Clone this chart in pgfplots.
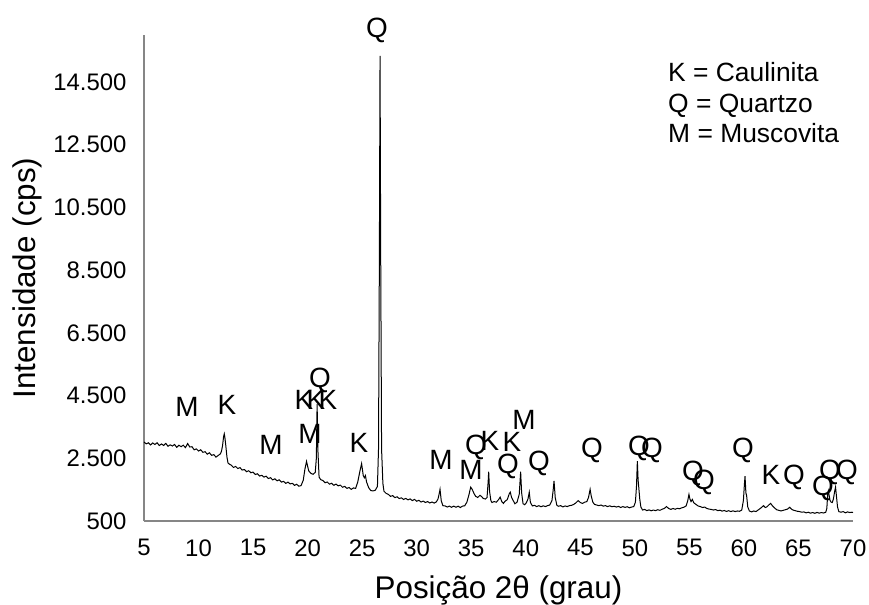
\documentclass[border=0pt]{standalone}
\usepackage{fontspec}
\setmainfont{Liberation Sans}
\usepackage{pgfplots}
\pgfplotsset{compat=1.18}
\usetikzlibrary{calc}
\definecolor{axisgray}{RGB}{134,134,134}

\begin{document}
\begin{tikzpicture}
\begin{axis}[
  name=ax,
  scale only axis,
  width=709bp, height=486bp,
  xmin=5, xmax=70, ymin=500, ymax=16000,
  xtick={5,10,...,70},
  ytick={500,2500,...,14500},
  scaled y ticks=false,
  axis lines=left,
  axis line style={draw=axisgray, line width=1.5bp, -},
  major tick length=0pt,
  tick label style={font=\fontsize{24}{28}\selectfont},
  /pgf/number format/1000 sep={.},
  /pgf/number format/assume math mode=true,
  xticklabel style={yshift=-15bp},
  yticklabel style={xshift=-14bp},
  xlabel={Posição 2θ (grau)},
  ylabel={Intensidade (cps)},
  label style={font=\fontsize{31.5}{36}\selectfont},
  xlabel style={at={(axis description cs:0.5,-0.142)}, anchor=center},
  ylabel style={at={(axis description cs:-0.164,0.5)}, anchor=center},
  clip=false,
]
% difratograma
\addplot[black, line width=1bp] coordinates {
(5.0,3020) (5.2,2960) (5.4,2995) (5.6,2925) (5.8,2990) (6.0,2940) (6.2,2996) (6.4,2907)
(6.6,2958) (6.8,2909) (7.0,2975) (7.2,2884) (7.4,2928) (7.6,2892) (7.8,2941) (8.0,2850)
(8.2,2917) (8.4,2870) (8.6,2918) (8.8,2840) (9.0,2970) (9.2,2860) (9.4,2870) (9.6,2770)
(9.8,2800) (10.0,2730) (10.2,2773) (10.4,2691) (10.6,2709) (10.8,2632) (11.0,2675) (11.2,2594)
(11.4,2617) (11.6,2538) (11.8,2590) (12.0,2640) (12.1,2720) (12.2,2900) (12.3,3200) (12.36,3280)
(12.42,3150) (12.5,2900) (12.6,2550) (12.7,2350) (12.8,2320)
(13.0,2280) (13.2,2208) (13.4,2241) (13.6,2174) (13.8,2202) (14.0,2125) (14.2,2141) (14.4,2072)
(14.6,2103) (14.8,2039) (15.0,2060) (15.2,1983) (15.4,2006) (15.6,1934) (15.8,1957) (16.0,1900)
(16.2,1930) (16.4,1855) (16.6,1880) (16.8,1810) (17.0,1845) (17.2,1782) (17.4,1814) (17.6,1741)
(17.8,1763) (18.0,1700) (18.2,1739) (18.4,1683) (18.6,1702) (18.8,1636) (19.0,1670) (19.2,1610)
(19.4,1630) (19.6,1800) (19.75,2150) (19.9,2400) (20.0,2250) (20.1,2100) (20.3,2020) (20.5,1990)
(20.7,2050) (20.8,2500) (20.87,4230) (20.95,2700) (21.05,1900) (21.2,1820) (21.4,1790) (21.6,1720)
(21.8,1745) (22.0,1675) (22.2,1704) (22.4,1638) (22.6,1677) (22.8,1621) (23.0,1645) (23.2,1577)
(23.4,1604) (23.6,1541) (23.8,1568) (24.0,1510) (24.2,1555) (24.4,1540) (24.6,1750) (24.8,2100)
(24.95,2330) (25.1,1950) (25.2,1880) (25.3,1950) (25.4,1750) (25.6,1560) (25.8,1470) (26.0,1460)
(26.2,1480) (26.4,1600) (26.5,2800) (26.58,9000) (26.64,15330) (26.7,9000) (26.78,2800) (26.9,1700)
(27.0,1450) (27.2,1380) (27.4,1350) (27.6,1285) (27.8,1310) (28.0,1245) (28.2,1273) (28.4,1216)
(28.6,1239) (28.8,1187) (29.0,1220) (29.2,1175) (29.4,1205) (29.6,1150) (29.8,1190) (30.0,1130)
(30.2,1160) (30.4,1105) (30.6,1135) (30.8,1090) (31.0,1120) (31.2,1075) (31.4,1105) (31.6,1070)
(31.8,1110) (31.95,1200) (32.05,1350) (32.14,1510) (32.25,1150) (32.4,990) (32.6,980) (32.8,945)
(33.0,975) (33.2,938) (33.4,976) (33.6,939) (33.8,972) (34.0,930) (34.2,975) (34.4,985)
(34.6,1100) (34.8,1350) (34.95,1580) (35.1,1500) (35.25,1380) (35.4,1290) (35.6,1250) (35.8,1320)
(35.95,1280) (36.1,1220) (36.3,1200) (36.45,1250) (36.55,1750) (36.6,2070) (36.68,1450) (36.8,1150)
(36.9,1090) (37.1,1120) (37.3,1100) (37.5,1180) (37.65,1260) (37.8,1120) (37.95,1060) (38.1,1130)
(38.3,1180) (38.5,1380) (38.58,1420) (38.7,1250) (38.85,1150) (39.0,1050) (39.2,1100) (39.4,1350)
(39.53,2070) (39.62,1400) (39.75,1050) (39.9,1020) (40.05,1080) (40.2,1200) (40.32,1420) (40.42,1100)
(40.6,980) (40.8,1000) (41.0,960) (41.2,990) (41.4,955) (41.6,985) (41.8,960) (42.0,990)
(42.2,1010) (42.4,1150) (42.5,1450) (42.59,1780) (42.7,1250) (42.85,1000) (43.0,970) (43.2,990)
(43.4,950) (43.6,980) (43.8,960) (44.0,990) (44.2,1000) (44.4,1030) (44.6,1080) (44.8,1150)
(45.0,1090) (45.2,1060) (45.4,1100) (45.6,1120) (45.75,1250) (45.9,1510) (46.0,1300) (46.15,1100)
(46.3,1030) (46.5,1010) (46.7,990) (46.9,1010) (47.1,975) (47.3,990) (47.5,960) (47.7,985)
(47.9,955) (48.1,970) (48.3,945) (48.5,965) (48.7,930) (48.9,960) (49.1,935) (49.3,955)
(49.5,920) (49.7,945) (49.9,960) (50.05,1100) (50.15,1600) (50.23,2410) (50.3,1800) (50.35,1610)
(50.45,1200) (50.55,950) (50.7,850) (50.9,870) (51.1,830) (51.3,855) (51.5,825) (51.7,850)
(51.9,830) (52.1,860) (52.3,840) (52.5,875) (52.7,900) (52.9,960) (53.1,900) (53.3,870)
(53.5,900) (53.7,875) (53.9,905) (54.1,890) (54.3,920) (54.5,940) (54.7,980) (54.85,1150)
(54.96,1350) (55.05,1200) (55.15,1120) (55.27,1190) (55.4,1080) (55.6,1030) (55.8,980) (56.0,960)
(56.2,930) (56.4,945) (56.6,900) (56.8,880) (57.0,870) (57.2,850) (57.4,865) (57.6,830)
(57.8,845) (58.0,815) (58.2,835) (58.4,805) (58.6,830) (58.8,800) (59.0,825) (59.2,800)
(59.4,820) (59.6,810) (59.8,850) (59.95,1150) (60.05,1700) (60.1,1930) (60.18,1400) (60.25,1300)
(60.35,950) (60.5,820) (60.7,790) (60.9,820) (61.1,800) (61.3,850) (61.5,900) (61.7,960)
(61.8,990) (61.95,930) (62.1,950) (62.3,1020) (62.45,1060) (62.6,990) (62.8,920) (63.0,860)
(63.2,840) (63.4,820) (63.6,840) (63.8,860) (64.0,880) (64.2,940) (64.35,880) (64.5,850)
(64.7,830) (64.9,810) (65.1,800) (65.3,780) (65.5,790) (65.7,760) (65.9,780) (66.1,750)
(66.3,770) (66.5,745) (66.7,775) (66.9,750) (67.1,770) (67.3,755) (67.5,780) (67.6,900)
(67.68,1350) (67.74,1460) (67.82,1300) (67.9,1150) (68.0,1100) (68.1,1090) (68.2,1200) (68.32,1450)
(68.4,1580) (68.48,1300) (68.58,950) (68.7,800) (68.9,780) (69.1,800) (69.3,760) (69.5,790)
(69.7,770) (69.9,780) (70.0,770)
};
\end{axis}

\begin{scope}[shift={($(ax.south west)+(-144bp,521bp)$)}, x=1bp, y=-1bp,
  every node/.style={font=\fontsize{28}{32}\selectfont, inner sep=0pt}]
\node at (187,407) {M};
\node at (227,405) {K};
\node at (271,445) {M};
\node at (304,400) {K};
\node at (316,400) {K};
\node at (328,400) {K};
\node at (320,380) {Q};
\node at (310,434) {M};
\node at (359,443) {K};
\node at (377,30) {Q};
\node at (441,460) {M};
\node at (471,470) {M};
\node at (476,447) {Q};
\node at (490,441) {K};
\node at (512,442) {K};
\node at (524,420) {M};
\node at (508,466) {Q};
\node at (539,463) {Q};
\node at (592,450) {Q};
\node at (639,448) {Q};
\node at (652,450) {Q};
\node at (693,473) {Q};
\node at (704,482) {Q};
\node at (743,450) {Q};
\node at (771,475) {K};
\node at (794,477) {Q};
\node at (830,472) {Q};
\node at (823,488) {Q};
\node at (847,472) {Q};
\node[anchor=north west, align=left, font=\fontsize{26.5}{30.5}\selectfont] at (668,62.5)
  {K = Caulinita\\Q = Quartzo\\M = Muscovita};
\pgfresetboundingbox
\path (0,0) rectangle (869,605);
\end{scope}
\end{tikzpicture}
\end{document}
